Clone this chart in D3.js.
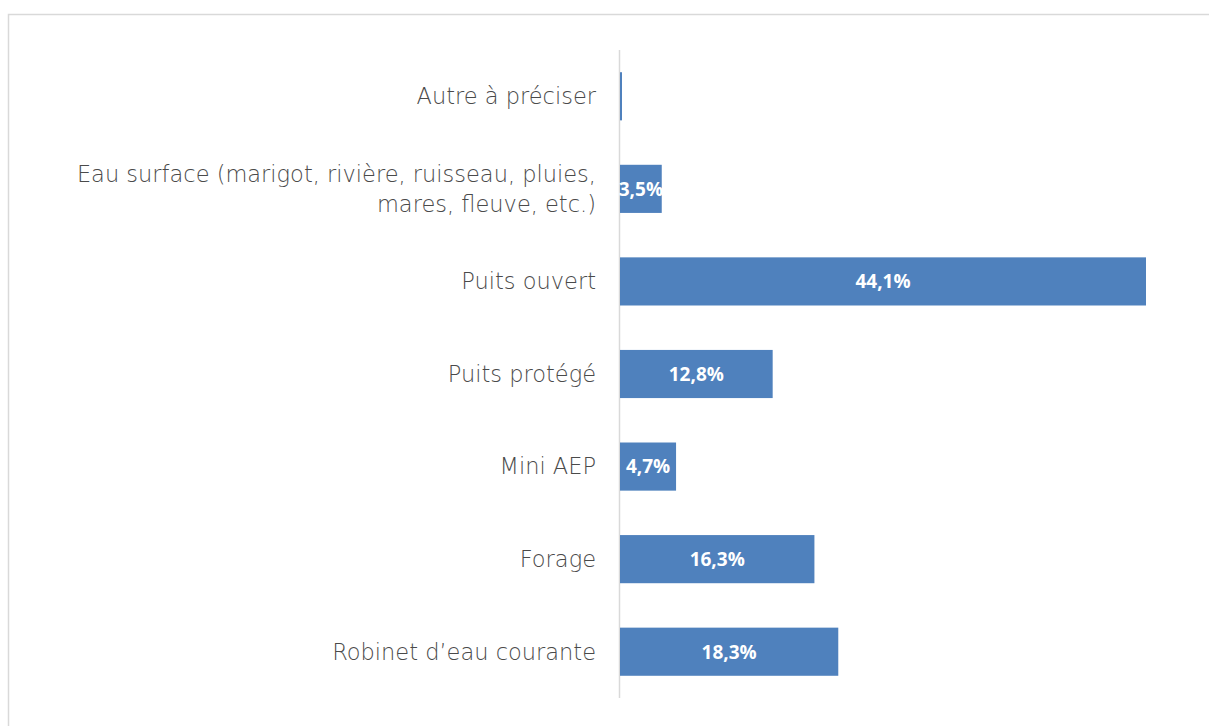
<!DOCTYPE html>
<html>
<head>
<meta charset="utf-8">
<script src="https://cdn.jsdelivr.net/npm/d3@7"></script>
<style>
  body { margin: 0; background: #fff; }
</style>
</head>
<body>
<svg id="chart" width="1209" height="726"></svg>
<script>
// categories from top to bottom
const categories = [
    ["Autre à préciser"],
    ["Eau surface (marigot, rivière, ruisseau, pluies,", "mares, fleuve, etc.)"],
    ["Puits ouvert"],
    ["Puits protégé"],
    ["Mini AEP"],
    ["Forage"],
    ["Robinet d’eau courante"]
];
const values = [0.1, 3.5, 44.1, 12.8, 4.7, 16.3, 18.3];

const svg = d3.select("#chart");

// outer frame
svg.append("rect")
    .attr("x", 8.5).attr("y", 14.5)
    .attr("width", 1220).attr("height", 730)
    .attr("fill", "none")
    .attr("stroke", "#d9d9d9")
    .attr("stroke-width", 1.5);

const x0 = 620;
const xScale = d3.scaleLinear()
    .domain([0, 44.1])
    .range([x0, 1146]);

const yScale = d3.scaleBand()
    .domain(d3.range(categories.length))
    .range([50, 698])
    .paddingInner(0.48)
    .paddingOuter(0.24);

// vertical axis line
svg.append("line")
    .attr("x1", x0 - 0.5).attr("x2", x0 - 0.5)
    .attr("y1", 50).attr("y2", 698)
    .attr("stroke", "#d9d9d9")
    .attr("stroke-width", 1.5);

// bars
svg.selectAll(".bar")
    .data(values)
    .enter()
    .append("rect")
    .attr("class", "bar")
    .attr("x", xScale(0))
    .attr("y", (d, i) => yScale(i))
    .attr("width", d => Math.max(2, xScale(d) - xScale(0)))
    .attr("height", yScale.bandwidth())
    .attr("fill", "#4f81bd");

// value labels (white, centred in the bar)
svg.selectAll(".value")
    .data(values.map((v, i) => ({ v, i })).filter(d => d.v >= 1))
    .enter()
    .append("text")
    .attr("class", "value")
    .attr("x", d => (xScale(0) + xScale(d.v)) / 2)
    .attr("y", d => yScale(d.i) + yScale.bandwidth() / 2)
    .attr("dy", "0.36em")
    .attr("text-anchor", "middle")
    .attr("font-family", "'Open Sans', sans-serif")
    .attr("font-weight", "bold")
    .attr("font-size", "19px")
    .attr("fill", "#fff")
    .text(d => d.v.toFixed(1).replace(".", ",") + "%");

// category labels
const labels = svg.selectAll(".label")
    .data(categories)
    .enter()
    .append("text")
    .attr("class", "label")
    .attr("text-anchor", "end")
    .attr("font-family", "'DejaVu Sans', sans-serif")
    .attr("font-weight", 200)
    .attr("font-size", "22.5px")
    .attr("fill", "#4a4a4a")
    .attr("transform", (d, i) => `translate(596,${yScale(i) + yScale.bandwidth() / 2})`);

labels.selectAll("tspan")
    .data(d => d.map((t, j) => ({ t, j, n: d.length })))
    .enter()
    .append("tspan")
    .attr("x", 0)
    .attr("y", d => (d.j - (d.n - 1) / 2) * 30)
    .attr("dy", "0.35em")
    .text(d => d.t);
</script>
</body>
</html>
